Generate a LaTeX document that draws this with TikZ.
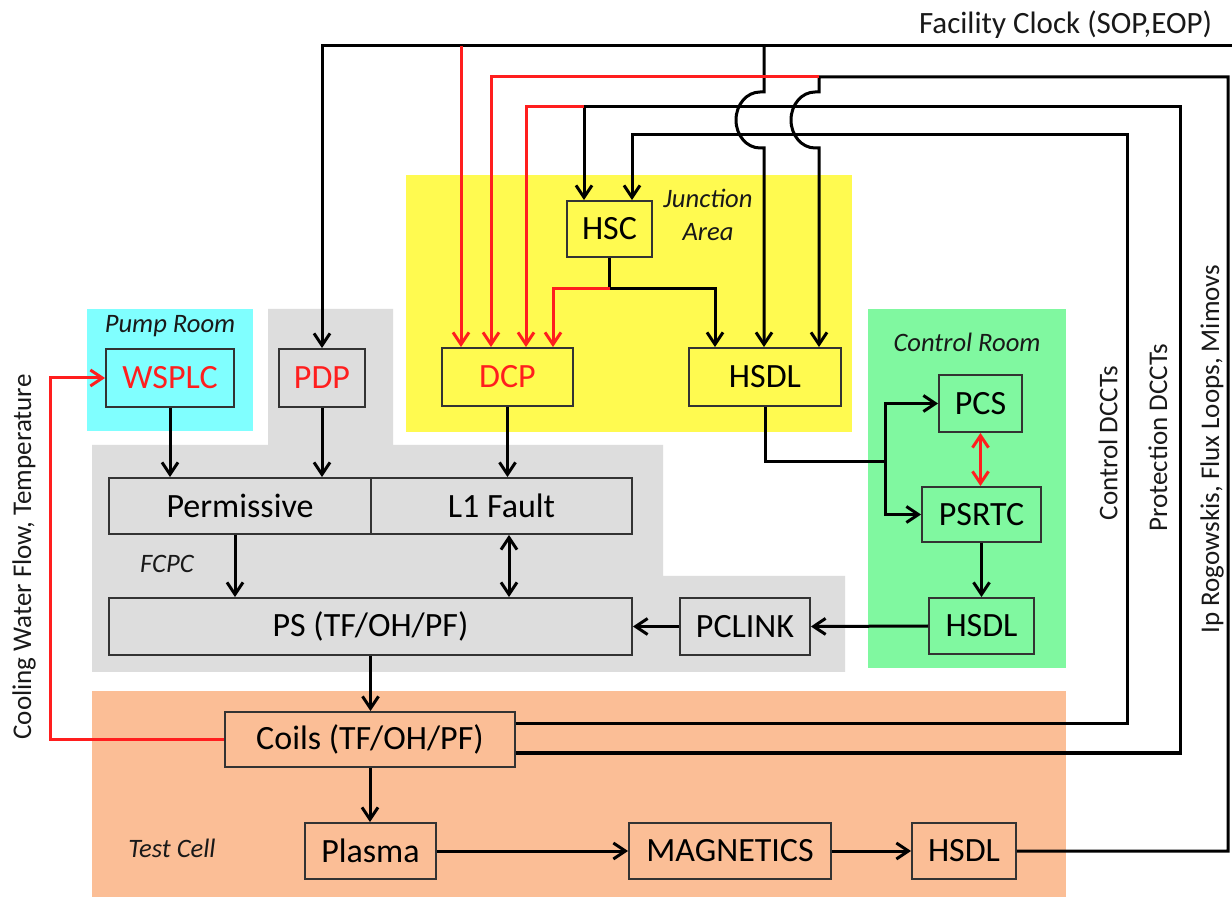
\documentclass[tikz,border=0pt]{standalone}
\usepackage{fontspec}
\setmainfont{Carlito}
\usetikzlibrary{arrows.meta}
\definecolor{jyellow}{RGB}{255,250,80}
\definecolor{pcyan}{RGB}{128,255,255}
\definecolor{cgreen}{RGB}{128,248,160}
\definecolor{fgray}{RGB}{221,221,221}
\definecolor{torange}{RGB}{251,190,150}
\definecolor{wred}{RGB}{255,30,30}
\begin{document}
\begin{tikzpicture}[x=0.5pt,y=-0.5pt,
  box/.style={draw=black!80, line width=0.9pt, inner sep=0pt, font=\fontsize{17}{20}\selectfont},
  wire/.style={line width=1.5pt},
  arr/.style={-{Straight Barb[length=6pt,width=8pt]}},
  dbl/.style={{Straight Barb[length=6pt,width=8pt]}-{Straight Barb[length=6pt,width=8pt]}},
  lbl/.style={font=\fontsize{13.3}{16.5}\selectfont\itshape, text=black!90},
  vlbl/.style={font=\fontsize{13.5}{16}\selectfont, rotate=90, text=black!90}
]
\useasboundingbox (0,0) rectangle (1232,897);
\fill[white] (0,0) rectangle (1232,897);
% regions
\fill[pcyan] (87,309) rectangle (253,431);
\fill[fgray] (268,309) -- (393,309) -- (393,445) -- (663,445) -- (663,576) -- (845,576) -- (845,672) -- (92,672) -- (92,445) -- (268,445) -- cycle;
\fill[jyellow] (406,175) rectangle (852,432);
\fill[cgreen] (868,309) rectangle (1066,668);
\fill[torange] (92,691) rectangle (1066,897);
% labels
\node[lbl] (lpump) at (170,326) {Pump Room};
\node[lbl, align=center] (ljunc) at (708,214.5) {Junction\\Area};
\node[lbl] (lctrl) at (967,342) {Control Room};
\node[lbl] (lfcpc) at (167,564) {FCPC};
\node[lbl] (ltest) at (172,848) {Test Cell};
\node[font=\fontsize{15.5}{18}\selectfont, text=black!90] (lclock) at (1065.5,25) {Facility Clock (SOP,EOP)};
\node[vlbl] (lcdcct) at (1108,443) {Control DCCTs};
\node[vlbl] (lpdcct) at (1158,438) {Protection DCCTs};
\node[vlbl] (lip) at (1212,449) {Ip Rogowskis, Flux Loops, Mimovs};
\node[vlbl] (lcool) at (24,557) {Cooling Water Flow, Temperature};
% boxes
\node[box, fill=pcyan, text=wred, minimum width=64pt, minimum height=29pt] (wsplc) at (170,378) {WSPLC};
\node[box, fill=fgray, text=wred, minimum width=43pt, minimum height=29pt] (pdp) at (322,378) {PDP};
\node[box, fill=jyellow, text=wred, minimum width=65.5pt, minimum height=29pt] (dcp) at (507.5,377) {DCP};
\node[box, fill=jyellow, minimum width=76pt, minimum height=29pt] (hsdlj) at (765,377) {HSDL};
\node[box, fill=jyellow, minimum width=42.5pt, minimum height=28pt] (hsc) at (609.5,229) {HSC};
\node[box, fill=fgray, minimum width=131pt, minimum height=28pt] (perm) at (240,506) {Permissive};
\node[box, fill=fgray, minimum width=130.5pt, minimum height=28pt] (l1) at (501.5,506) {L1 Fault};
\node[box, fill=fgray, minimum width=261.5pt, minimum height=28.5pt] (ps) at (370.5,626.5) {PS (TF/OH/PF)};
\node[box, fill=fgray, minimum width=65pt, minimum height=28.5pt] (pclink) at (745,626.5) {PCLINK};
\node[box, fill=cgreen, minimum width=41.5pt, minimum height=28.5pt] (pcs) at (980.5,403.5) {PCS};
\node[box, fill=cgreen, minimum width=59.5pt, minimum height=27.5pt] (psrtc) at (981.5,514.5) {PSRTC};
\node[box, fill=cgreen, minimum width=52.5pt, minimum height=28pt] (hsdlc) at (981.5,626) {HSDL};
\node[box, fill=torange, minimum width=145pt, minimum height=27.5pt] (coils) at (370,739.5) {Coils (TF/OH/PF)};
\node[box, fill=torange, minimum width=65.5pt, minimum height=28pt] (plasma) at (370.5,851) {Plasma};
\node[box, fill=torange, minimum width=101pt, minimum height=28pt] (mag) at (730,851) {MAGNETICS};
\node[box, fill=torange, minimum width=52pt, minimum height=28pt] (hsdlt) at (964,851) {HSDL};
% coordinates
\coordinate (clk) at (1232,46);
\coordinate (clkL) at (322,46);
\coordinate (rA) at (461,46);
\coordinate (jA) at (764,46);
\coordinate (ipR) at (1228,77);
\coordinate (ipJ) at (819,77);
\coordinate (rB) at (491,77);
\coordinate (prR) at (1180,107);
\coordinate (prJ) at (584,107);
\coordinate (rC) at (526,107);
\coordinate (ctR) at (1127,135);
\coordinate (ctJ) at (632,135);
\coordinate (hb) at (609.5,289);
\coordinate (hR) at (715,289);
\coordinate (hL) at (553,289);
\coordinate (bj) at (765,462);
\coordinate (bx) at (885,462);
\coordinate (cw) at (50,739.5);
\path ([yshift=7.75pt]coils.east) coordinate (cUp);
\path ([yshift=-6.75pt]coils.east) coordinate (cLo);
\path ([xshift=-2.5pt]perm.south) coordinate (pp);
\path ([xshift=3.75pt]l1.south) coordinate (lf);
% clock
\draw[wire,arr] (clk) -- (clkL) -- (pdp.north);
\draw[wire,arr] (jA) -- (764,92) -- (760,92) arc[start angle=90,end angle=270,x radius=12pt,y radius=14pt] -- (764,148) -- (jA |- hsdlj.north);
\draw[wire,wred,arr] (rA) -- (rA |- dcp.north);
% Ip rogowskis
\draw[wire,arr] (hsdlt.east) -- (ipR |- hsdlt.east) -- (ipR) -- (ipJ) -- (819,92) -- (815,92) arc[start angle=90,end angle=270,x radius=12pt,y radius=14pt] -- (819,148) -- (ipJ |- hsdlj.north);
\draw[wire,wred,arr] (ipJ) -- (rB) -- (rB |- dcp.north);
% protection DCCTs
\draw[wire,arr] (cLo) -- (prR |- cLo) -- (prR) -- (prJ) -- (prJ |- hsc.north);
\draw[wire,wred,arr] (prJ) -- (rC) -- (rC |- dcp.north);
% control DCCTs
\draw[wire,arr] (cUp) -- (ctR |- cUp) -- (ctR) -- (ctJ) -- (ctJ |- hsc.north);
% HSC outputs
\draw[wire] (hsc.south) -- (hb);
\draw[wire,arr] (hb) -- (hR) -- (hR |- hsdlj.north);
\draw[wire,wred,arr] (hb) -- (hL) -- (hL |- dcp.north);
% FCPC
\draw[wire,arr] (wsplc.south) -- (wsplc.south |- perm.north);
\draw[wire,arr] (pdp.south) -- (pdp.south |- perm.north);
\draw[wire,arr] (dcp.south) -- (dcp.south |- l1.north);
\draw[wire,arr] (pp) -- (pp |- ps.north);
\draw[wire,dbl] (lf) -- (lf |- ps.north);
\draw[wire,arr] (pclink.west) -- (ps.east);
\draw[wire,arr] (hsdlc.west) -- (pclink.east);
% control room
\draw[wire] (hsdlj.south) -- (bj) -- (bx);
\draw[wire,arr] (bx) -- (bx |- pcs.west) -- (pcs.west);
\draw[wire,arr] (bx) -- (bx |- psrtc.west) -- (psrtc.west);
\draw[wire,wred,dbl] (pcs.south) -- (pcs.south |- psrtc.north);
\draw[wire,arr] (psrtc.south) -- (psrtc.south |- hsdlc.north);
% test cell
\draw[wire,arr] (ps.south) -- (ps.south |- coils.north);
\draw[wire,arr] (coils.south) -- (coils.south |- plasma.north);
\draw[wire,arr] (plasma.east) -- (mag.west);
\draw[wire,arr] (mag.east) -- (hsdlt.west);
% cooling
\draw[wire,wred,arr] (coils.west) -- (cw) -- (cw |- wsplc.west) -- (wsplc.west);
\end{tikzpicture}
\end{document}
